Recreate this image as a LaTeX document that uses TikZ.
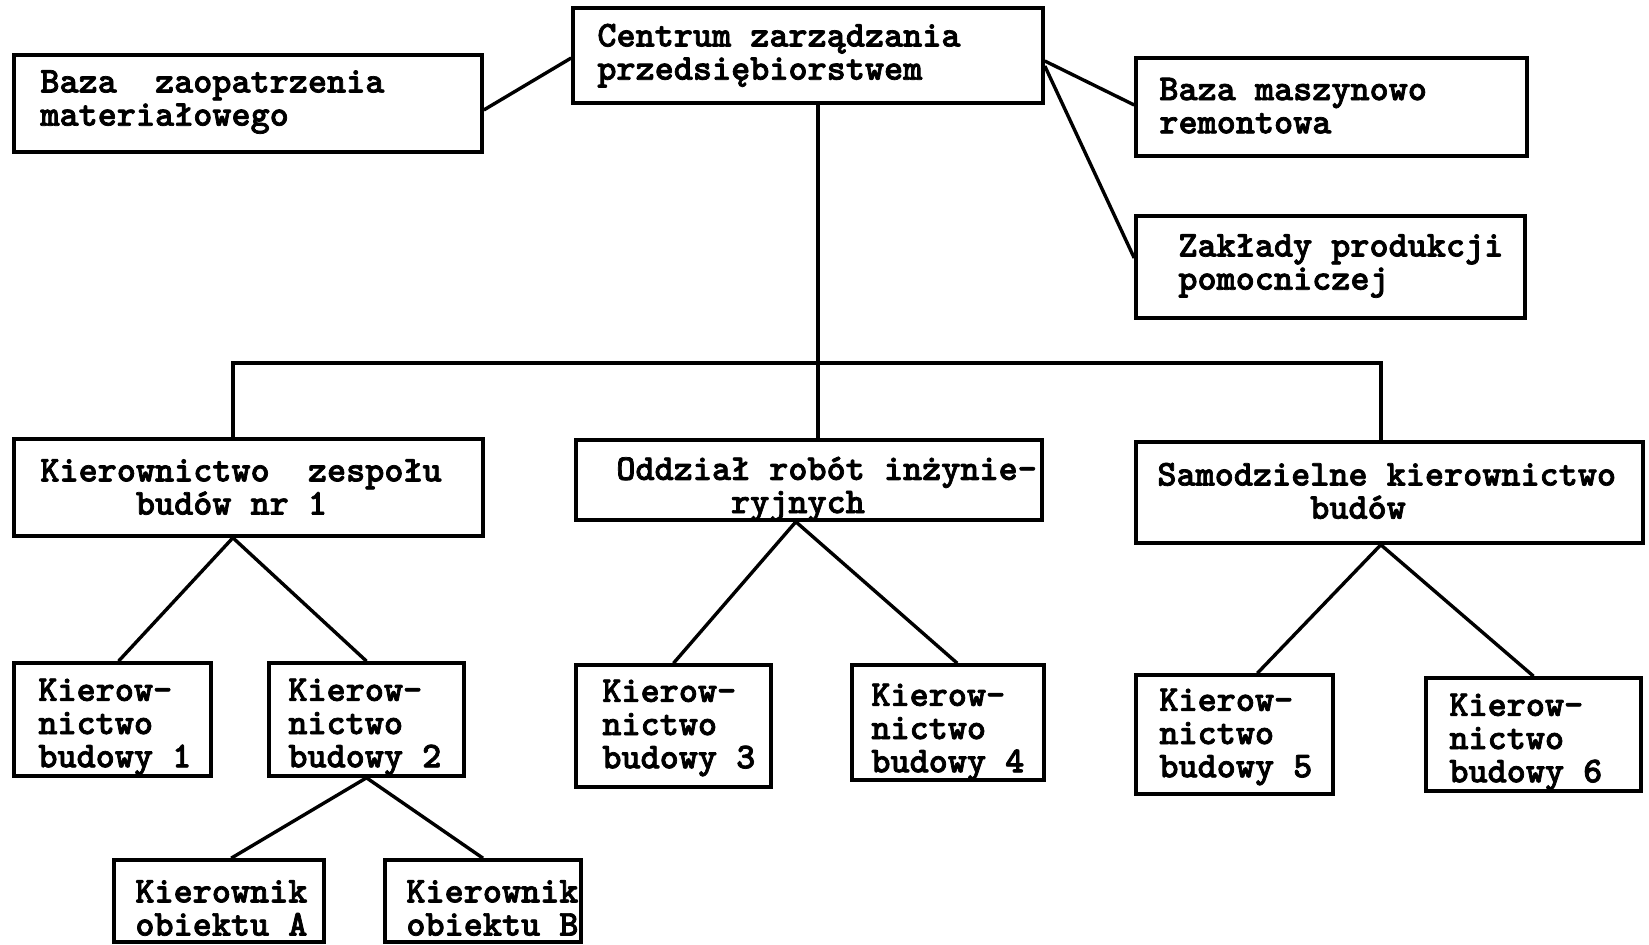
\documentclass[tikz,border=0pt]{standalone}
\usepackage{fontspec}
\newfontfamily\tw{lmmonolt10-bold.otf}[FakeBold=2]
\usetikzlibrary{fit,calc}
\tikzset{
  box/.style={draw, line width=1.8pt, inner sep=0pt},
  lbl/.style={anchor=west, inner sep=0pt, align=left,
    font=\tw\fontsize{18.2}{16.6}\selectfont},
  link/.style={line width=1.7pt}
}
\begin{document}
\begin{tikzpicture}[x=0.5pt, y=-0.5pt]
\useasboundingbox (0,0) rectangle (1649,945);

% top level
\node[box, fit={(573,8) (1043,103)}] (cz) {};
\node[box, fit={(14,55) (482,152)}] (bz) {};
\node[box, fit={(1136,58) (1527,156)}] (bm) {};
\node[box, fit={(1136,216) (1525,318)}] (zp) {};

% second level
\node[box, fit={(14,439) (483,536)}] (kz) {};
\node[box, fit={(576,440) (1042,520)}] (or) {};
\node[box, fit={(1136,442) (1643,543)}] (sk) {};

% construction sites
\node[box, fit={(14,663) (211,776)}] (k1) {};
\node[box, fit={(269,663) (464,776)}] (k2) {};
\node[box, fit={(576,665) (771,787)}] (k3) {};
\node[box, fit={(852,665) (1044,780)}] (k4) {};
\node[box, fit={(1136,675) (1333,794)}] (k5) {};
\node[box, fit={(1426,678) (1641,791)}] (k6) {};

% object managers
\node[box, fit={(114,860) (324,942)}] (ka) {};
\node[box, fit={(385,860) (581,942)}] (kb) {};

% labels
\node[lbl] (t-cz) at (597,55.7) {Centrum zarządzania\\przedsiębiorstwem};
\node[lbl] (t-bz) at (40,102) {Baza\ \ zaopatrzenia\\materiałowego};
\node[lbl] (t-bm) at (1159,105.7) {Baza maszynowo\\remontowa};
\node[lbl] (t-zp) at (1178,266) {Zakłady produkcji\\pomocniczej};
\node[lbl] (t-kz) at (40,487) {Kierownictwo\ \ zespołu\\\phantom{Kiero}budów nr 1};
\node[lbl] (t-or) at (616,489) {Oddział robót inżynie-\\\phantom{Oddzia}ryjnych};
\node[lbl] (t-sk) at (1157,491) {Samodzielne kierownictwo\\\phantom{Samodzie}budów};
\node[lbl] (t-k1) at (38,727) {Kierow-\\nictwo\\budowy 1};
\node[lbl] (t-k2) at (288,727) {Kierow-\\nictwo\\budowy 2};
\node[lbl] (t-k3) at (602,728) {Kierow-\\nictwo\\budowy 3};
\node[lbl] (t-k4) at (871,732) {Kierow-\\nictwo\\budowy 4};
\node[lbl] (t-k5) at (1159,737) {Kierow-\\nictwo\\budowy 5};
\node[lbl] (t-k6) at (1449,742) {Kierow-\\nictwo\\budowy 6};
\node[lbl] (t-ka) at (135,908) {Kierownik\\obiektu A};
\node[lbl] (t-kb) at (406,908) {Kierownik\\obiektu B};

% bus line points
\coordinate (tr) at (818,363);
\coordinate (bl) at (233,363);
\coordinate (br) at (1381,363);

% links of the centre
\draw[link] ([yshift=-3.25pt]bz.east) -- ([yshift=-1.25pt]cz.west);
\draw[link] ([yshift=-2.75pt]cz.east) -- ([yshift=1pt]bm.west);
\draw[link] ([yshift=-5.25pt]cz.east) -- ([yshift=4.5pt]zp.west);
\draw[link] (cz.south -| tr) -- (or.north -| tr);
\draw[link] (kz.north -| bl) -- (bl) -- (br) -- (sk.north -| br);

% fans to the construction sites
\draw[link] ($(k1.north west)!0.53!(k1.north east)$) -- ($(kz.south west)!0.467!(kz.south east)$) -- (k2.north);
\draw[link] (k3.north) -- ($(or.south west)!0.472!(or.south east)$) -- ($(k4.north west)!0.547!(k4.north east)$);
\draw[link] ($(k5.north west)!0.614!(k5.north east)$) -- ($(sk.south west)!0.483!(sk.south east)$) -- (k6.north);
\draw[link] ($(ka.north west)!0.557!(ka.north east)$) -- (k2.south) -- (kb.north);
\end{tikzpicture}
\end{document}
